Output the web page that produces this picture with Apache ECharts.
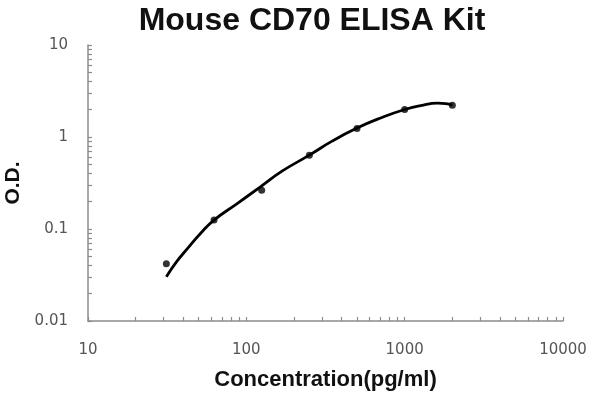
<!DOCTYPE html>
<html>
<head>
<meta charset="utf-8">
<script src="https://cdn.jsdelivr.net/npm/echarts@6/dist/echarts.min.js"></script>
<style>html,body{margin:0;padding:0;background:#fff;}#chart{width:600px;height:400px;}</style>
</head>
<body>
<div id="chart"></div>
<script>
const concentrations = [31.25, 62.5, 125, 250, 500, 1000, 2000];
const odValues = [0.042, 0.125, 0.264, 0.635, 1.24, 1.99, 2.22];
const curveConc = [31.25, 36.4, 43.1, 51.5, 62.5, 87.5, 122.7, 168, 250, 348, 500, 705, 1000, 1262, 1618, 1816, 2000];
const curveOD = [0.0303, 0.0445, 0.063, 0.090, 0.125, 0.189, 0.287, 0.425, 0.635, 0.902, 1.25, 1.61, 1.99, 2.19, 2.33, 2.30, 2.22];
const xLabelValues = [10, 100, 1000, 10000];
const yLabelValues = [0.01, 0.1, 1, 10];

function logTicks(lo, hi) {
  const out = [];
  for (let d = lo; d < hi; d *= 10) {
    for (let m = 1; m <= 9; m++) out.push(+(d * m).toPrecision(6));
  }
  out.push(hi);
  return out;
}

const chart = echarts.init(document.getElementById('chart'));
const axisColor = '#8c8c8c';
const labelColor = '#555555';
chart.setOption({
  animation: false,
  title: {
    text: 'Mouse CD70 ELISA Kit',
    left: 307, textAlign: 'center', top: 0,
    textStyle: { fontFamily: 'Liberation Sans, Arial', fontWeight: 'bold', fontSize: 32, color: '#111' }
  },
  grid: { left: 88, right: 37, top: 45, bottom: 79, containLabel: false, outerBoundsMode: 'none' },
  xAxis: {
    type: 'log', logBase: 10, min: 10, max: 10000,
    name: 'Concentration(pg/ml)', nameLocation: 'middle', nameGap: 48,
    nameTextStyle: { fontFamily: 'Liberation Sans, Arial', fontWeight: 'bold', fontSize: 22, color: '#111' },
    axisLine: { show: true, lineStyle: { color: axisColor, width: 1.5 } },
    axisTick: { show: true, inside: true, length: 4, lineStyle: { color: axisColor, width: 1.2 }, customValues: logTicks(10, 10000) },
    axisLabel: { customValues: xLabelValues, margin: 22, fontFamily: 'DejaVu Sans', fontSize: 15, color: labelColor,
      formatter: v => String(v) },
    splitLine: { show: false }
  },
  yAxis: {
    type: 'log', logBase: 10, min: 0.01, max: 10,
    name: 'O.D.', nameLocation: 'middle', nameGap: 57, nameRotate: 90,
    nameTextStyle: { fontFamily: 'Liberation Sans, Arial', fontWeight: 'bold', fontSize: 21, color: '#111' },
    axisLine: { show: true, lineStyle: { color: axisColor, width: 1.5 } },
    axisTick: { show: true, inside: true, length: 4, lineStyle: { color: axisColor, width: 1.2 }, customValues: logTicks(0.01, 10) },
    axisLabel: { customValues: yLabelValues, margin: 20, fontFamily: 'DejaVu Sans', fontSize: 15, color: labelColor,
      formatter: v => String(v) },
    splitLine: { show: false }
  },
  series: [
    {
      type: 'line', smooth: 0.5, showSymbol: false,
      data: curveConc.map((c, i) => [c, curveOD[i]]),
      lineStyle: { color: '#000', width: 2.8 }
    },
    {
      type: 'scatter', symbol: 'circle', symbolSize: 7,
      data: concentrations.map((c, i) => [c, odValues[i]]),
      itemStyle: { color: '#000' }
    }
  ]
});
</script>
</body>
</html>
